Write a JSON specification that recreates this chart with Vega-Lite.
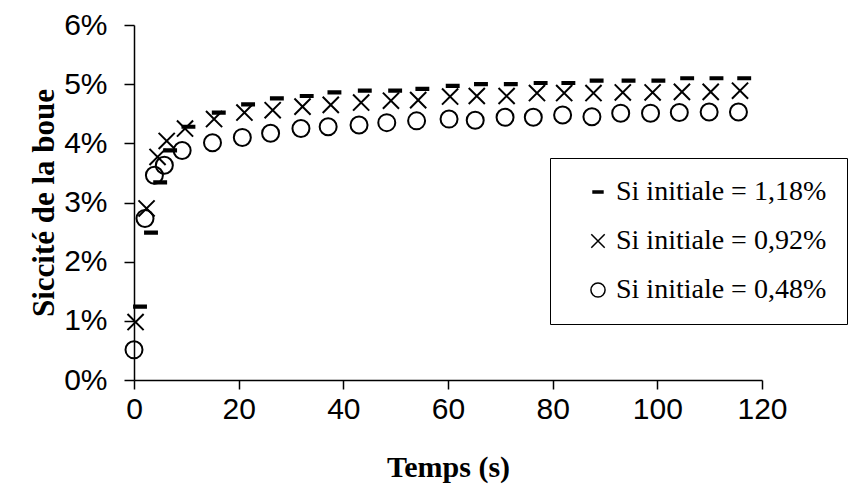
{
  "$schema": "https://vega.github.io/schema/vega-lite/v6.json",
  "width": 628,
  "height": 355,
  "autosize": {"type": "none"},
  "padding": {"left": 134, "top": 25, "right": 87, "bottom": 117},
  "background": "white",
  "config": {"view": {"stroke": null}},
  "data": {"values": [
    {"t": 1.15, "s": 1.24, "serie": "Si initiale = 1,18%"},
    {"t": 3.25, "s": 2.49, "serie": "Si initiale = 1,18%"},
    {"t": 5.0, "s": 3.34, "serie": "Si initiale = 1,18%"},
    {"t": 6.9, "s": 3.88, "serie": "Si initiale = 1,18%"},
    {"t": 10.4, "s": 4.28, "serie": "Si initiale = 1,18%"},
    {"t": 16.2, "s": 4.52, "serie": "Si initiale = 1,18%"},
    {"t": 21.8, "s": 4.66, "serie": "Si initiale = 1,18%"},
    {"t": 27.3, "s": 4.76, "serie": "Si initiale = 1,18%"},
    {"t": 33.0, "s": 4.80, "serie": "Si initiale = 1,18%"},
    {"t": 38.3, "s": 4.86, "serie": "Si initiale = 1,18%"},
    {"t": 44.1, "s": 4.89, "serie": "Si initiale = 1,18%"},
    {"t": 49.9, "s": 4.89, "serie": "Si initiale = 1,18%"},
    {"t": 55.1, "s": 4.92, "serie": "Si initiale = 1,18%"},
    {"t": 60.9, "s": 4.97, "serie": "Si initiale = 1,18%"},
    {"t": 66.3, "s": 5.00, "serie": "Si initiale = 1,18%"},
    {"t": 72.0, "s": 5.00, "serie": "Si initiale = 1,18%"},
    {"t": 77.7, "s": 5.02, "serie": "Si initiale = 1,18%"},
    {"t": 83.0, "s": 5.02, "serie": "Si initiale = 1,18%"},
    {"t": 88.4, "s": 5.06, "serie": "Si initiale = 1,18%"},
    {"t": 94.5, "s": 5.06, "serie": "Si initiale = 1,18%"},
    {"t": 100.2, "s": 5.06, "serie": "Si initiale = 1,18%"},
    {"t": 105.7, "s": 5.10, "serie": "Si initiale = 1,18%"},
    {"t": 111.3, "s": 5.10, "serie": "Si initiale = 1,18%"},
    {"t": 116.6, "s": 5.10, "serie": "Si initiale = 1,18%"},
    {"t": 0.3, "s": 0.98, "serie": "Si initiale = 0,92%"},
    {"t": 2.4, "s": 2.90, "serie": "Si initiale = 0,92%"},
    {"t": 4.5, "s": 3.77, "serie": "Si initiale = 0,92%"},
    {"t": 6.25, "s": 4.04, "serie": "Si initiale = 0,92%"},
    {"t": 9.75, "s": 4.25, "serie": "Si initiale = 0,92%"},
    {"t": 15.3, "s": 4.41, "serie": "Si initiale = 0,92%"},
    {"t": 21.1, "s": 4.52, "serie": "Si initiale = 0,92%"},
    {"t": 26.5, "s": 4.56, "serie": "Si initiale = 0,92%"},
    {"t": 32.2, "s": 4.62, "serie": "Si initiale = 0,92%"},
    {"t": 37.6, "s": 4.65, "serie": "Si initiale = 0,92%"},
    {"t": 43.4, "s": 4.69, "serie": "Si initiale = 0,92%"},
    {"t": 49.1, "s": 4.72, "serie": "Si initiale = 0,92%"},
    {"t": 54.3, "s": 4.73, "serie": "Si initiale = 0,92%"},
    {"t": 60.4, "s": 4.79, "serie": "Si initiale = 0,92%"},
    {"t": 65.5, "s": 4.80, "serie": "Si initiale = 0,92%"},
    {"t": 71.2, "s": 4.80, "serie": "Si initiale = 0,92%"},
    {"t": 77.0, "s": 4.85, "serie": "Si initiale = 0,92%"},
    {"t": 82.2, "s": 4.85, "serie": "Si initiale = 0,92%"},
    {"t": 87.8, "s": 4.85, "serie": "Si initiale = 0,92%"},
    {"t": 93.4, "s": 4.86, "serie": "Si initiale = 0,92%"},
    {"t": 99.1, "s": 4.86, "serie": "Si initiale = 0,92%"},
    {"t": 104.7, "s": 4.87, "serie": "Si initiale = 0,92%"},
    {"t": 110.2, "s": 4.87, "serie": "Si initiale = 0,92%"},
    {"t": 115.8, "s": 4.89, "serie": "Si initiale = 0,92%"},
    {"t": 0.0, "s": 0.51, "serie": "Si initiale = 0,48%"},
    {"t": 2.1, "s": 2.73, "serie": "Si initiale = 0,48%"},
    {"t": 3.9, "s": 3.46, "serie": "Si initiale = 0,48%"},
    {"t": 5.8, "s": 3.63, "serie": "Si initiale = 0,48%"},
    {"t": 9.2, "s": 3.88, "serie": "Si initiale = 0,48%"},
    {"t": 15.0, "s": 4.01, "serie": "Si initiale = 0,48%"},
    {"t": 20.7, "s": 4.10, "serie": "Si initiale = 0,48%"},
    {"t": 26.1, "s": 4.17, "serie": "Si initiale = 0,48%"},
    {"t": 31.9, "s": 4.25, "serie": "Si initiale = 0,48%"},
    {"t": 37.1, "s": 4.28, "serie": "Si initiale = 0,48%"},
    {"t": 43.0, "s": 4.31, "serie": "Si initiale = 0,48%"},
    {"t": 48.3, "s": 4.35, "serie": "Si initiale = 0,48%"},
    {"t": 54.0, "s": 4.38, "serie": "Si initiale = 0,48%"},
    {"t": 60.2, "s": 4.41, "serie": "Si initiale = 0,48%"},
    {"t": 65.2, "s": 4.39, "serie": "Si initiale = 0,48%"},
    {"t": 70.9, "s": 4.44, "serie": "Si initiale = 0,48%"},
    {"t": 76.3, "s": 4.44, "serie": "Si initiale = 0,48%"},
    {"t": 81.9, "s": 4.48, "serie": "Si initiale = 0,48%"},
    {"t": 87.5, "s": 4.45, "serie": "Si initiale = 0,48%"},
    {"t": 93.0, "s": 4.51, "serie": "Si initiale = 0,48%"},
    {"t": 98.7, "s": 4.51, "serie": "Si initiale = 0,48%"},
    {"t": 104.2, "s": 4.52, "serie": "Si initiale = 0,48%"},
    {"t": 109.9, "s": 4.53, "serie": "Si initiale = 0,48%"},
    {"t": 115.5, "s": 4.53, "serie": "Si initiale = 0,48%"}
  ]},
  "mark": {"type": "point", "size": 289, "strokeWidth": 2, "opacity": 1},
  "encoding": {
    "x": {
      "field": "t", "type": "quantitative",
      "scale": {"domain": [0, 120], "nice": false, "zero": false},
      "axis": {
        "values": [0, 20, 40, 60, 80, 100, 120],
        "title": "Temps (s)", "grid": false,
        "domainColor": "black", "domainWidth": 1.5,
        "tickColor": "black", "tickWidth": 1.5, "tickSize": 9,
        "labelFont": "Liberation Sans", "labelFontSize": 30, "labelColor": "black", "labelPadding": 5,
        "labelFlush": false,
        "titleFont": "Liberation Serif", "titleFontSize": 30, "titleFontWeight": "bold", "titleColor": "black",
        "titlePadding": 28
      }
    },
    "y": {
      "field": "s", "type": "quantitative",
      "scale": {"domain": [0, 6], "nice": false},
      "axis": {
        "values": [0, 1, 2, 3, 4, 5, 6],
        "labelExpr": "datum.value + '%'",
        "title": "Siccité de la boue", "grid": false,
        "domainColor": "black", "domainWidth": 1.5,
        "tickColor": "black", "tickWidth": 1.5, "tickSize": 10,
        "labelFont": "Liberation Sans", "labelFontSize": 30, "labelColor": "black", "labelPadding": 17,
        "labelFlush": false,
        "titleFont": "Liberation Serif", "titleFontSize": 31, "titleFontWeight": "bold", "titleColor": "black",
        "titlePadding": 3
      }
    },
    "shape": {
      "field": "serie", "type": "nominal",
      "scale": {
        "domain": ["Si initiale = 1,18%", "Si initiale = 0,92%", "Si initiale = 0,48%"],
        "range": ["M-0.7,-0.13H0.7V0.13H-0.7Z", "M-0.95,-0.95L0.95,0.95M-0.95,0.95L0.95,-0.95", "circle"]
      },
      "legend": {
        "orient": "none", "legendX": 416, "legendY": 133,
        "title": null, "strokeColor": "black", "fillColor": "white",
        "padding": 20, "symbolOffset": 14, "rowPadding": 21,
        "labelFont": "Liberation Serif", "labelFontSize": 28, "labelColor": "black", "labelOffset": 4,
        "symbolSize": 200, "symbolStrokeWidth": 1.5, "labelLimit": 400
      }
    },
    "fill": {
      "field": "serie", "type": "nominal",
      "scale": {
        "domain": ["Si initiale = 1,18%", "Si initiale = 0,92%", "Si initiale = 0,48%"],
        "range": ["black", "transparent", "transparent"]
      }
    },
    "stroke": {
      "field": "serie", "type": "nominal",
      "scale": {
        "domain": ["Si initiale = 1,18%", "Si initiale = 0,92%", "Si initiale = 0,48%"],
        "range": ["black", "black", "black"]
      }
    }
  }
}
